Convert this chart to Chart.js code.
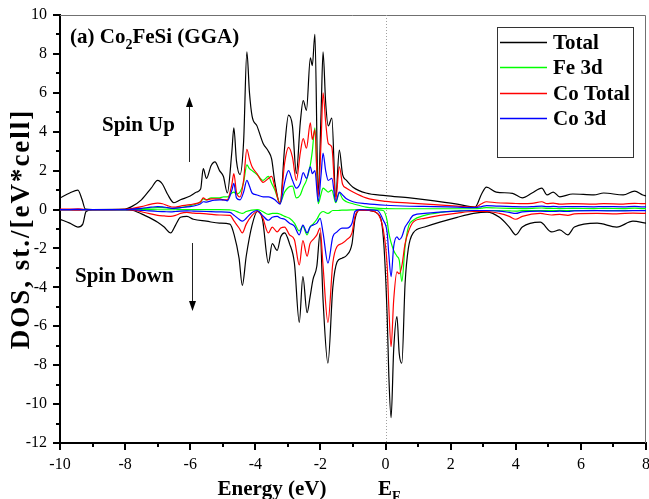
<!DOCTYPE html>
<html>
<head>
<meta charset="utf-8">
<script src="https://cdn.jsdelivr.net/npm/chart.js@4.4.1/dist/chart.umd.min.js"></script>
<style>
  html, body { margin: 0; padding: 0; background: #fff; }
  #c { display: block; }
</style>
</head>
<body>
<canvas id="c" width="649" height="499" style="width:649px;height:499px"></canvas>
<script>
// ---------- data ----------
const energyUp = [-10,-9.7,-9.45,-9.32,-9.22,-9.0,-8.0,-7.8,-7.5,-7.2,-7.0,-6.85,-6.7,-6.5,-6.3,-6.0,-5.8,-5.68,-5.6,-5.5,-5.36,-5.24,-5.1,-4.98,-4.86,-4.72,-4.66,-4.58,-4.47,-4.36,-4.26,-4.18,-4.1,-3.95,-3.76,-3.6,-3.5,-3.4,-3.24,-3.1,-2.98,-2.86,-2.74,-2.62,-2.53,-2.43,-2.31,-2.25,-2.17,-2.07,-1.98,-1.92,-1.84,-1.76,-1.65,-1.53,-1.42,-1.32,-1.2,-1.0,-0.6,0,0.75,1.5,2.2,2.75,2.95,3.1,3.4,3.9,4.2,4.5,4.8,4.96,5.15,5.35,5.75,6.4,6.7,7.3,7.65,7.9,8.0];
const totalUp = [0.6,0.85,1.0,0.5,0.02,0,0.02,0.15,0.5,1.1,1.5,1.3,0.8,0.35,0.5,0.7,0.9,1.05,2.1,1.6,2.25,2.45,2.0,1.7,0.85,3.0,4.2,2.5,1.8,3.5,8.1,6.0,4.8,4.3,3.4,3.0,2.6,1.4,0.3,3.2,4.85,4.3,1.85,4.45,5.6,5.1,7.8,7.4,9.0,0.85,5.0,8.1,5.5,4.3,4.7,0.65,3.05,1.8,1.5,1.15,0.85,0.72,0.6,0.45,0.28,0.13,0.8,1.15,0.9,0.83,0.6,0.85,1.1,0.75,0.9,0.65,0.8,0.75,0.85,0.75,0.95,0.75,0.7];
const fe3dUp = [0,0,0,0,0,0,0,0.02,0.05,0.08,0.1,0.1,0.08,0.05,0.1,0.2,0.3,0.4,0.55,0.5,0.6,0.6,0.6,0.65,0.65,0.85,0.9,0.8,0.9,1.4,2.3,2.1,2.0,1.8,1.5,1.7,1.35,1.0,0.35,0.9,1.15,1.2,0.6,0.75,1.15,1.5,2.3,3.0,4.2,0.3,0.8,1.1,1.0,0.9,1.0,0.35,0.85,0.55,0.4,0.3,0.12,0.05,0.04,0.04,0.04,0.04,0.07,0.1,0.08,0.06,0.05,0.06,0.08,0.06,0.06,0.05,0.06,0.05,0.06,0.05,0.07,0.05,0.05];
const coTotalUp = [0.02,0.02,0.03,0.02,0,0,0.01,0.05,0.15,0.28,0.33,0.3,0.2,0.12,0.18,0.25,0.32,0.4,0.6,0.5,0.55,0.55,0.55,0.5,0.5,1.3,1.85,0.9,0.65,1.5,3.1,2.6,2.2,1.85,1.4,1.6,1.7,1.15,0.3,2.4,3.2,2.7,1.5,2.9,3.65,3.15,4.45,3.6,4.1,0.65,3.5,6.0,4.5,3.4,3.2,0.5,2.2,1.3,1.1,0.9,0.6,0.42,0.33,0.25,0.18,0.12,0.3,0.4,0.35,0.32,0.3,0.32,0.4,0.3,0.33,0.28,0.3,0.28,0.3,0.28,0.32,0.3,0.3];
const co3dUp = [0,0,0.01,0,0,0,0,0.02,0.06,0.12,0.15,0.14,0.1,0.06,0.1,0.15,0.22,0.3,0.4,0.38,0.45,0.48,0.5,0.5,0.45,1.0,1.35,0.6,0.5,0.9,1.5,1.2,0.85,0.75,0.65,0.65,0.6,0.5,0.28,1.4,2.0,1.5,1.1,1.35,1.9,1.6,2.2,1.85,2.0,0.4,1.8,2.9,2.0,1.5,1.6,0.4,0.9,0.75,0.55,0.4,0.3,0.22,0.17,0.15,0.12,0.1,0.15,0.2,0.18,0.15,0.14,0.15,0.18,0.15,0.16,0.14,0.15,0.14,0.15,0.14,0.16,0.14,0.14];

const energyDown = [-10,-9.7,-9.45,-9.3,-9.2,-9.0,-8.0,-7.75,-7.4,-7.0,-6.8,-6.6,-6.45,-6.3,-6.1,-5.9,-5.5,-5.1,-4.78,-4.65,-4.5,-4.4,-4.28,-4.1,-3.94,-3.78,-3.6,-3.48,-3.33,-3.22,-3.1,-2.95,-2.8,-2.65,-2.54,-2.41,-2.32,-2.23,-2.11,-2.01,-1.92,-1.77,-1.62,-1.49,-1.34,-1.19,-1.03,-0.94,-0.79,-0.5,-0.25,-0.07,0.05,0.1,0.17,0.25,0.35,0.42,0.5,0.6,0.7,0.85,1.2,1.67,2.2,2.7,3.12,3.5,3.8,4.0,4.2,4.75,5.1,5.35,5.6,5.8,6.5,7.1,7.6,8.0];
const totalDown = [-0.5,-0.7,-0.9,-0.75,-0.1,0,0,-0.05,-0.3,-0.65,-0.9,-1.2,-0.8,-0.4,-0.35,-0.5,-0.6,-0.7,-0.75,-1.3,-2.5,-3.9,-2.4,-0.8,-0.1,-0.5,-2.75,-1.75,-2.1,-1.4,-1.2,-1.75,-2.75,-5.8,-3.45,-5.3,-4.5,-3.6,-2.9,-1.2,-4.65,-7.9,-4.0,-2.7,-2.5,-2.35,-1.75,-0.5,-0.02,-0.05,-0.2,-1.4,-5.5,-8.5,-10.7,-7.2,-5.5,-7.4,-7.9,-3.8,-2.0,-1.2,-0.9,-0.65,-0.4,-0.2,-0.13,-0.4,-0.9,-1.3,-0.9,-0.65,-1.15,-1.05,-1.3,-0.9,-0.7,-0.9,-0.6,-0.7];
const fe3dDown = [0,0,0,0,0,0,0,0,0,-0.01,-0.01,-0.01,-0.01,0,0,0,0,0,-0.02,-0.05,-0.15,-0.2,-0.1,-0.03,0,-0.1,-0.25,-0.2,-0.2,-0.25,-0.35,-0.45,-0.7,-1.1,-0.85,-1.3,-0.9,-0.75,-0.5,-0.2,-0.1,-0.2,-0.05,-0.05,-0.03,-0.03,-0.02,-0.01,0,0,-0.02,-0.05,-0.6,-1.2,-1.7,-2.1,-2.4,-2.6,-3.7,-1.9,-0.9,-0.55,-0.3,-0.15,-0.08,-0.05,-0.05,-0.06,-0.07,-0.08,-0.06,-0.05,-0.06,-0.05,-0.06,-0.05,-0.05,-0.05,-0.05,-0.05];
const coTotalDown = [-0.02,-0.02,-0.03,-0.02,0,0,0,-0.03,-0.15,-0.3,-0.33,-0.35,-0.3,-0.2,-0.15,-0.18,-0.22,-0.28,-0.3,-0.6,-0.95,-1.2,-0.75,-0.3,-0.1,-0.4,-1.2,-0.9,-1.15,-0.95,-0.9,-1.3,-1.55,-2.85,-1.6,-2.4,-1.75,-1.55,-1.3,-0.95,-2.9,-5.8,-2.75,-1.9,-1.75,-1.55,-1.2,-0.35,-0.03,-0.05,-0.2,-1.05,-2.9,-5.0,-7.05,-4.65,-3.2,-3.3,-2.9,-1.75,-1.15,-0.65,-0.45,-0.3,-0.18,-0.1,-0.1,-0.2,-0.35,-0.5,-0.35,-0.2,-0.28,-0.25,-0.3,-0.22,-0.2,-0.22,-0.18,-0.2];
const co3dDown = [0,0,-0.01,0,0,0,0,-0.01,-0.05,-0.1,-0.11,-0.12,-0.1,-0.08,-0.07,-0.08,-0.1,-0.12,-0.15,-0.3,-0.5,-0.6,-0.45,-0.15,-0.05,-0.3,-0.55,-0.4,-0.35,-0.45,-0.5,-0.7,-0.85,-1.3,-0.8,-1.2,-0.9,-0.8,-0.7,-0.45,-1.2,-2.75,-1.4,-1.15,-0.95,-0.95,-0.7,-0.1,0,-0.02,-0.05,-0.55,-1.2,-2.3,-3.45,-1.9,-1.4,-1.55,-1.4,-0.9,-0.65,-0.3,-0.2,-0.13,-0.08,-0.05,-0.05,-0.08,-0.15,-0.2,-0.12,-0.08,-0.1,-0.08,-0.1,-0.07,-0.06,-0.07,-0.06,-0.06];

const seriesNames = ['Total', 'Fe 3d', 'Co Total', 'Co 3d'];
const seriesColors = ['#000000', '#00ff00', '#ff0000', '#0000ff'];
const xTickValues = [-10,-8,-6,-4,-2,0,2,4,6,8];
const yTickValues = [-12,-10,-8,-6,-4,-2,0,2,4,6,8,10];

// ---------- build datasets ----------
const FONT = '"Liberation Serif", "Times New Roman", serif';
function pts(xs, ys) { return xs.map((e, i) => ({ x: e, y: ys[i] })); }
const upSets = [totalUp, fe3dUp, coTotalUp, co3dUp];
const downSets = [totalDown, fe3dDown, coTotalDown, co3dDown];
const datasets = [];
// Chart.js paints dataset 0 last (on top) -> put Co 3d first, Total last
for (let k = 3; k >= 0; k--) {
  datasets.push({ label: seriesNames[k] + ' up', data: pts(energyUp, upSets[k]), borderColor: seriesColors[k] });
  datasets.push({ label: seriesNames[k] + ' down', data: pts(energyDown, downSets[k]), borderColor: seriesColors[k] });
}
datasets.forEach(d => { d.borderWidth = 1.2; d.pointRadius = 0; d.fill = false; d.cubicInterpolationMode = 'monotone'; });

const deco = {
  id: 'deco',
  beforeDatasetsDraw(chart) {
    const { ctx, chartArea: a, scales: { x } } = chart;
    ctx.save();
    ctx.strokeStyle = '#707070'; ctx.lineWidth = 1;
    ctx.beginPath();
    ctx.moveTo(a.left, a.top + 0.5); ctx.lineTo(a.right - 0.5, a.top + 0.5); ctx.lineTo(a.right - 0.5, a.bottom);
    ctx.stroke();
    const x0 = Math.round(x.getPixelForValue(0)) + 0.5;
    ctx.setLineDash([1, 2]); ctx.strokeStyle = '#a0a0a0';
    ctx.beginPath(); ctx.moveTo(x0, a.top); ctx.lineTo(x0, a.bottom); ctx.stroke();
    ctx.restore();
  },
  afterDraw(chart) {
    const { ctx, chartArea: a, scales: { x, y } } = chart;
    ctx.save();
    // minor ticks
    ctx.strokeStyle = '#000'; ctx.lineWidth = 2;
    ctx.beginPath();
    for (let v = -9; v <= 7; v += 2) { const p = Math.round(x.getPixelForValue(v)); ctx.moveTo(p, a.bottom); ctx.lineTo(p, a.bottom + 4); }
    for (let v = -11; v <= 9; v += 2) { const p = Math.round(y.getPixelForValue(v)); ctx.moveTo(a.left, p); ctx.lineTo(a.left - 4, p); }
    ctx.stroke();

    ctx.fillStyle = '#000';
    ctx.textBaseline = 'alphabetic';
    ctx.textAlign = 'left';
    const B = 'bold 21px ' + FONT, S = 'bold 14px ' + FONT;
    // panel title with subscript
    let tx = 70;
    ctx.font = B;
    ctx.fillText('(a) Co', tx, 43); tx += ctx.measureText('(a) Co').width;
    ctx.font = S;
    ctx.fillText('2', tx, 49); tx += ctx.measureText('2').width;
    ctx.font = B;
    ctx.fillText('FeSi (GGA)', tx, 43);

    // spin labels
    ctx.fillText('Spin Up', 102, 131);
    ctx.fillText('Spin Down', 75, 282);

    // arrows
    function arrow(xp, y1, y2) {
      const dir = Math.sign(y2 - y1);
      ctx.strokeStyle = '#222'; ctx.fillStyle = '#000'; ctx.lineWidth = 1;
      ctx.beginPath(); ctx.moveTo(xp, y1); ctx.lineTo(xp, y2 - dir * 8); ctx.stroke();
      ctx.beginPath(); ctx.moveTo(xp, y2); ctx.lineTo(xp - 3.5, y2 - dir * 10); ctx.lineTo(xp + 3.5, y2 - dir * 10); ctx.closePath(); ctx.fill();
    }
    arrow(189.5, 162, 97);
    arrow(192.5, 243, 311);

    // legend box
    ctx.strokeStyle = '#333'; ctx.lineWidth = 1;
    ctx.strokeRect(497.5, 27.5, 136, 130);
    ctx.font = B;
    const rows = [42, 67, 93, 118];
    for (let k = 0; k < 4; k++) {
      ctx.strokeStyle = seriesColors[k]; ctx.lineWidth = 1.3;
      ctx.beginPath(); ctx.moveTo(500, rows[k] + 0.5); ctx.lineTo(547, rows[k] + 0.5); ctx.stroke();
      ctx.fillStyle = '#000';
      ctx.fillText(seriesNames[k], 553, rows[k] + 7);
    }

    // axis titles
    ctx.font = B;
    ctx.textAlign = 'center';
    ctx.fillText('Energy (eV)', 272, 495);
    ctx.textAlign = 'left';
    ctx.fillText('E', 378, 495);
    const ew = ctx.measureText('E').width;
    ctx.font = S;
    ctx.fillText('F', 378 + ew, 501);

    ctx.save();
    ctx.translate(29, 229);
    ctx.rotate(-Math.PI / 2);
    ctx.font = 'bold 27px ' + FONT;
    ctx.textAlign = 'center';
    try { ctx.letterSpacing = '2px'; } catch (e) {}
    ctx.fillText('DOS, st./[eV*cell]', 0, 0);
    ctx.restore();
    ctx.restore();
  }
};

new Chart(document.getElementById('c'), {
  type: 'line',
  data: { datasets },
  options: {
    responsive: false,
    animation: false,
    devicePixelRatio: 1,
    layout: { autoPadding: false, padding: { left: 0, right: 3, top: 15, bottom: 0 } },
    plugins: { legend: { display: false }, tooltip: { enabled: false } },
    scales: {
      x: {
        type: 'linear', min: -10, max: 8,
        afterBuildTicks: s => { s.ticks = xTickValues.map(v => ({ value: v })); },
        ticks: { color: '#000', font: { family: FONT, size: 16 }, padding: 5, maxRotation: 0, autoSkip: false },
        grid: { drawOnChartArea: false, drawTicks: true, tickLength: 7, color: '#000', lineWidth: 2 },
        border: { color: '#000', width: 2 },
        afterFit: s => { s.height = 56; s.paddingLeft = 0; s.paddingRight = 0; }
      },
      y: {
        type: 'linear', min: -12, max: 10,
        afterBuildTicks: s => { s.ticks = yTickValues.map(v => ({ value: v })); },
        ticks: { color: '#000', font: { family: FONT, size: 16 }, padding: 6, autoSkip: false },
        grid: { drawOnChartArea: false, drawTicks: true, tickLength: 7, color: '#000', lineWidth: 2 },
        border: { color: '#000', width: 2 },
        afterFit: s => { s.width = 60; s.paddingTop = 0; s.paddingBottom = 0; }
      }
    }
  },
  plugins: [deco]
});
</script>
</body>
</html>
